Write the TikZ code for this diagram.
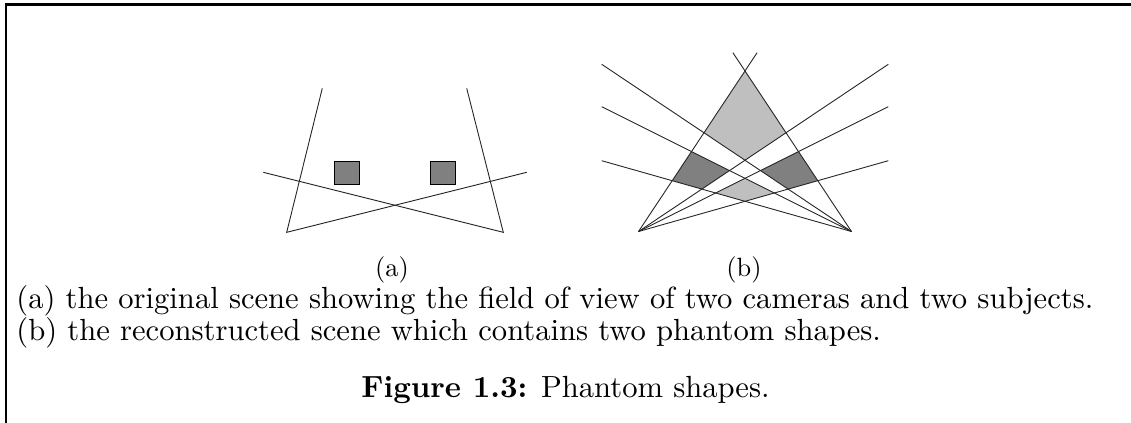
\documentclass[tikz,border=0pt]{standalone}
\usepackage{fontspec}
\newfontfamily\lmten{lmroman10-regular}[Extension=.otf, BoldFont=lmroman10-bold]
\begin{document}
\begin{tikzpicture}[x=0.5pt,y=-0.5pt,
  ray/.style={line width=0.45pt, black!85},
  subject/.style={draw=black, line width=0.5pt, fill=black!50, inner sep=0pt, anchor=north west, minimum width=12.35pt, minimum height=11.8pt},
  lightzone/.style={fill=black!25},
  darkzone/.style={fill=black!50},
  frameline/.style={line width=1.1pt},
  bodytext/.style={font=\lmten\fontsize{15.3}{18}\selectfont, inner sep=0pt},
  labeltext/.style={font=\lmten\fontsize{13.2}{15}\selectfont, inner sep=0pt}]
\useasboundingbox (0,0) rectangle (1131,423);
% frame
\coordinate (f1) at (6,423);
\coordinate (f2) at (6,4.5);
\coordinate (f3) at (1131,4.5);
\draw[frameline] (f1) -- (f2) -- (f3);
% ---------- (a) ----------
\coordinate (la) at (286.7,232.3);
\coordinate (ra) at (503.3,232.3);
\coordinate (la1) at (322.3,88.3);
\coordinate (la2) at (526.7,172.3);
\coordinate (ra1) at (466.7,88.3);
\coordinate (ra2) at (263.3,172.3);
\draw[ray] (la1) -- (la) -- (la2);
\draw[ray] (ra1) -- (ra) -- (ra2);
\node[subject] (s1) at (334.3,160.7) {};
\node[subject] (s2) at (430.3,160.7) {};
% ---------- (b) ----------
\coordinate (LC) at (638.5,231.5);
\coordinate (RC) at (851.5,231.5);
\coordinate (A0) at (757.1,52.7);
\coordinate (B0) at (732.9,52.7);
\coordinate (A1) at (888.3,64.3);
\coordinate (A2) at (888.3,106.7);
\coordinate (A3) at (888.3,160.7);
\coordinate (B1) at (601.7,64.3);
\coordinate (B2) at (601.7,106.7);
\coordinate (B3) at (601.7,160.7);
% top light region
\fill[lightzone] (intersection of LC--A0 and RC--B0) -- (intersection of LC--A0 and RC--B1)
  -- (intersection of LC--A1 and RC--B1) -- (intersection of RC--B0 and LC--A1) -- cycle;
% left dark region
\fill[darkzone] (intersection of LC--A0 and RC--B2) -- (intersection of RC--B2 and LC--A1)
  -- (intersection of LC--A1 and RC--B3) -- (intersection of RC--B3 and LC--A0) -- cycle;
% right dark region
\fill[darkzone] (intersection of RC--B0 and LC--A2) -- (intersection of LC--A2 and RC--B1)
  -- (intersection of RC--B1 and LC--A3) -- (intersection of LC--A3 and RC--B0) -- cycle;
% lower light region
\fill[lightzone] (intersection of LC--A2 and RC--B3) -- (intersection of LC--A2 and RC--B2)
  -- (intersection of RC--B2 and LC--A3) -- (intersection of LC--A3 and RC--B3) -- cycle;
\foreach \e in {A0,A1,A2,A3} \draw[ray] (LC) -- (\e);
\foreach \e in {B0,B1,B2,B3} \draw[ray] (RC) -- (\e);
% ---------- texts ----------
\node[labeltext, anchor=base] (la-lab) at (392,276) {(a)};
\node[labeltext, anchor=base] (lb-lab) at (744,276) {(b)};
\node[bodytext, anchor=base west] (cap1) at (16,308) {(a) the original scene showing the field of view of two cameras and two subjects.};
\node[bodytext, anchor=base west] (cap2) at (16,340) {(b) the reconstructed scene which contains two phantom shapes.};
\node[bodytext, anchor=base] (cap3) at (565.5,397) {\textbf{Figure 1.3:} Phantom shapes.};
\end{tikzpicture}
\end{document}
